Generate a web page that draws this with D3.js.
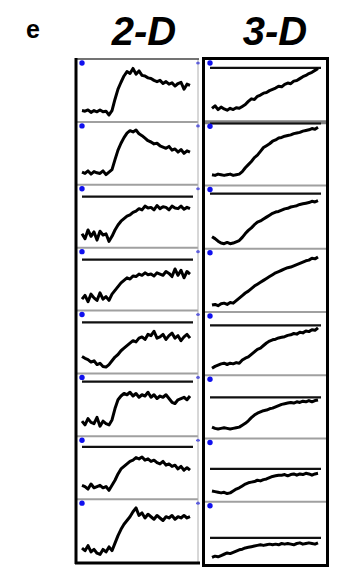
<!DOCTYPE html>
<html>
<head>
<meta charset="utf-8">
<script src="https://cdn.jsdelivr.net/npm/d3@7"></script>
<style>
  html, body { margin: 0; padding: 0; background: #fff; }
  svg { display: block; }
</style>
</head>
<body>
<svg id="chart" width="339" height="572"></svg>
<script>
// ---- data (normalised intensity, % of panel height) ----
const panelLabel = "e";
const columns = ["2-D", "3-D"];

const d2_r1 = [18,17,19,15,18,16,19,16,17,11,18,36,52,63,73,80,77,85,76,81,74,73,70,69,66,64,66,61,64,60,62,57,61,63,52,60,58];
const d2_r2 = [20,18,22,17,21,19,18,22,16,20,24,40,55,66,75,82,86,84,87,81,78,74,70,68,65,66,62,60,58,61,55,57,52,56,50,54,52];
const d2_r3 = [22,14,28,18,25,12,26,20,22,10,18,28,36,42,46,50,52,56,58,62,60,66,63,64,60,67,62,65,64,60,66,63,62,66,61,64,62];
const d2_r4 = [18,24,14,26,20,16,28,18,22,16,26,32,38,44,48,52,50,55,54,58,56,60,57,58,55,60,58,56,62,59,54,66,56,64,52,62,58];
const d2_r5 = [27,24,22,18,20,14,16,11,10,14,20,26,30,36,40,44,48,52,50,56,58,54,62,60,67,56,58,62,54,60,64,56,60,52,58,62,56];
const d2_r6 = [24,18,28,22,20,30,16,24,20,18,26,44,58,64,68,66,70,64,68,62,66,64,70,62,66,60,64,62,66,60,54,52,58,60,62,58,64];
const d2_r7 = [22,20,16,24,18,20,22,18,20,14,22,30,40,48,52,56,60,62,66,64,67,62,64,60,62,58,56,60,54,56,52,54,48,52,46,50,46];
const d2_r8 = [22,18,26,16,20,14,12,20,16,24,18,30,42,52,60,66,72,80,86,74,78,70,76,72,68,74,70,66,72,70,74,68,72,70,74,70,72];

const d3_r1 = [22,26,20,24,21,19,22,20,23,22,25,28,33,37,36,41,43,46,47,50,52,54,57,56,60,62,61,65,66,69,72,74,77,79,82,85];
const d3_r2 = [17,16,18,17,16,17,18,16,17,18,22,28,33,38,44,48,54,60,63,66,70,72,75,76,78,79,80,82,83,84,86,87,88,90,89,92];
const d3_r3 = [19,16,12,9,8,10,8,9,11,13,18,24,29,33,38,42,44,47,50,53,56,58,59,61,63,64,66,67,68,70,71,72,73,75,74,76];
const d3_r4 = [11,12,10,13,14,12,15,14,18,22,26,30,33,37,41,44,47,50,53,56,59,62,64,66,68,70,71,73,75,77,79,81,82,85,84,87];
const d3_r5 = [11,14,16,18,19,17,19,18,20,19,24,27,29,33,37,41,43,47,51,54,56,57,59,60,61,63,64,66,65,68,67,70,69,72,71,75];
const d3_r6 = [18,16,15,16,17,16,15,16,17,18,21,24,28,33,37,40,42,44,45,47,48,50,52,54,55,56,57,56,58,57,59,58,60,58,60,61];
const d3_r7 = [17,16,15,14,15,13,14,17,20,22,25,28,30,31,32,34,33,35,36,38,40,41,42,42,43,41,43,44,42,44,43,45,44,42,44,45];
const d3_r8 = [12,14,13,15,17,19,18,20,22,24,25,27,28,29,30,31,32,31,32,33,32,33,32,34,33,34,33,32,34,35,33,34,35,34,33,35];

// reference (pre-bleach) levels per cell, null = not shown
const ref2D = [null, null, 81, 81, 81, 87, 83, null];
const ref3D = [86, 98, 87, null, 79, 65, 52, 43];

const traces2D = [d2_r1, d2_r2, d2_r3, d2_r4, d2_r5, d2_r6, d2_r7, d2_r8];
const traces3D = [d3_r1, d3_r2, d3_r3, d3_r4, d3_r5, d3_r6, d3_r7, d3_r8];

// ---- drawing ----
const svg = d3.select("#chart");

svg.append("text").attr("x", 26).attr("y", 38)
  .attr("font-family", "Liberation Sans, Arial, sans-serif")
  .attr("font-weight", "bold").attr("font-size", 25).text(panelLabel);

const panels = [
  {label: columns[0], traces: traces2D, refs: ref2D, left: 77, right: 198, top: 59, bottom: 562,
   x0: 82, x1: 190, titleX: 144},
  {label: columns[1], traces: traces3D, refs: ref3D, left: 205, right: 326, top: 59, bottom: 565,
   x0: 212, x1: 318, titleX: 275}
];

panels.forEach((p, pi) => {
  svg.append("text").attr("x", p.titleX).attr("y", 45)
    .attr("text-anchor", "middle")
    .attr("font-family", "Liberation Sans, Arial, sans-serif")
    .attr("font-weight", "bold").attr("font-style", "italic")
    .attr("font-size", 40).text(p.label);

  const rows = d3.scaleBand().domain(d3.range(p.traces.length))
    .range([p.top, p.bottom]).paddingInner(0);
  const rh = rows.bandwidth();

  p.traces.forEach((vals, i) => {
    const t = rows(i);
    const x = d3.scaleLinear().domain([0, vals.length - 1]).range([p.x0, p.x1]);
    const y = d3.scaleLinear().domain([0, 100]).range([t + rh, t]);
    const g = svg.append("g");

    if (i > 0) {
      const special = (pi === 1 && i === 1);
      g.append("line").attr("x1", p.left).attr("x2", p.right)
        .attr("y1", t).attr("y2", t)
        .attr("stroke", special ? "#808080" : "#a0a0a0")
        .attr("stroke-width", special ? 4 : 2);
    }
    if (p.refs[i] !== null) {
      g.append("line").attr("x1", p.left + 5).attr("x2", p.right - 5)
        .attr("y1", y(p.refs[i])).attr("y2", y(p.refs[i]))
        .attr("stroke", "#111").attr("stroke-width", 2.2);
    }
    g.append("path").datum(vals)
      .attr("fill", "none").attr("stroke", "#000")
      .attr("stroke-width", 3).attr("stroke-linejoin", "round")
      .attr("d", d3.line().x((d, k) => x(k)).y(d => y(d)));
    g.append("circle").attr("cx", p.left + 5).attr("cy", t + 4).attr("r", 2.7).attr("fill", "#1010ee");
    if (pi === 0) {
      g.append("circle").attr("cx", p.right).attr("cy", t + 4).attr("r", 1.6).attr("fill", "#1010ee");
    }
  });
});

// frames
svg.append("line").attr("x1", 198).attr("x2", 198).attr("y1", 59).attr("y2", 562)
  .attr("stroke", "#b0b0b0").attr("stroke-width", 1);
svg.append("line").attr("x1", 76).attr("x2", 199).attr("y1", 59).attr("y2", 59)
  .attr("stroke", "#444").attr("stroke-width", 1.6);
svg.append("line").attr("x1", 76).attr("x2", 76).attr("y1", 58).attr("y2", 564)
  .attr("stroke", "#000").attr("stroke-width", 3);
svg.append("line").attr("x1", 75).attr("x2", 200).attr("y1", 563).attr("y2", 563)
  .attr("stroke", "#000").attr("stroke-width", 3);
svg.append("rect").attr("x", 203.5).attr("y", 58.5).attr("width", 124).attr("height", 507)
  .attr("fill", "none").attr("stroke", "#000").attr("stroke-width", 3);
</script>
</body>
</html>
